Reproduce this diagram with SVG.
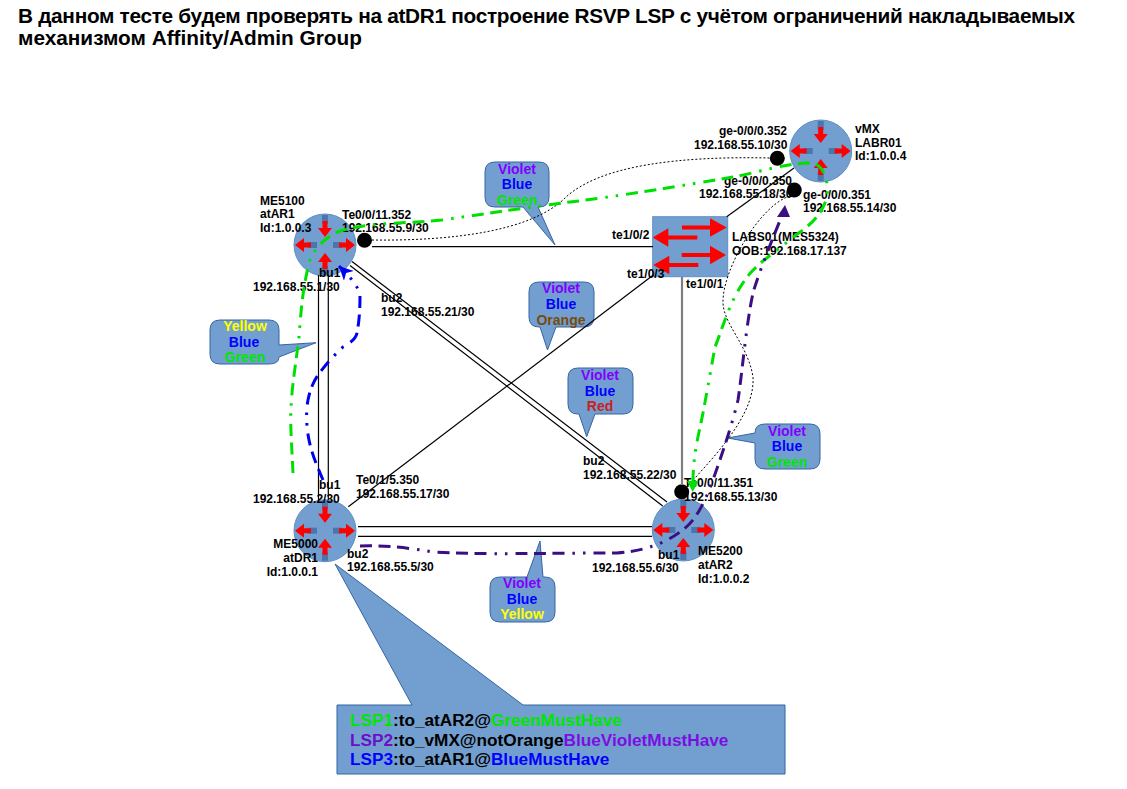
<svg xmlns="http://www.w3.org/2000/svg" width="1127" height="789" viewBox="0 0 1127 789">
<style>
text{font-family:"Liberation Sans",Arial,sans-serif;font-weight:bold;fill:#000}
.t{font-size:12px}
.title{font-size:20.8px}
.c{font-size:14px;text-anchor:middle}
.b{font-size:17.2px}
.e{text-anchor:end}
.v{fill:#8000ff}.bl{fill:#0000ff}.g{fill:#00e600}.o{fill:#784b10}.r{fill:#c9211e}.y{fill:#ffff00}.v2{fill:#6a10c8}.v3{fill:#7a10e0}
.call{fill:#729fcf;stroke:#3465a4;stroke-width:1}
.ln{fill:none;stroke:#000;stroke-width:1.2}
.gray{fill:none;stroke:#808080;stroke-width:2.2}
.dot{fill:none;stroke:#000;stroke-width:1;stroke-dasharray:2 2}
.lsp{fill:none;stroke-width:3;stroke-dasharray:12 6.5 12 6.5 12 8 2.5 8 2.5 8}
</style>
<defs>
<g id="out"><rect x="8" y="-3" width="9" height="6" fill="#4a76ae"/><path d="M14-2.500H21V-7L30 0L21 7V2.500H14Z" fill="#ff0000"/></g>
<g id="in"><rect x="21" y="-3" width="9" height="6" fill="#4a76ae"/><path d="M24-2.500H17V-7L8 0L17 7V2.500H24Z" fill="#ff0000"/></g>
<g id="router"><circle r="31" fill="#729fcf" stroke="#5f8fc4" stroke-width="1"/><use href="#in" transform="rotate(90)"/><use href="#in" transform="rotate(-90)"/><use href="#out"/><use href="#out" transform="rotate(180)"/></g>
<marker id="mb" markerUnits="userSpaceOnUse" markerWidth="18" markerHeight="18" refX="14" refY="7" orient="auto"><path d="M0 0L14 7L0 14L4 7Z" fill="#0000ee"/></marker>
</defs>

<text class="title" x="18" y="23" textLength="1057" lengthAdjust="spacing">В данном тесте будем проверять на atDR1 построение RSVP LSP с учётом ограничений накладываемых</text>
<text class="title" x="18" y="45">механизмом Affinity/Admin Group</text>

<g id="vMX"><use href="#router" x="820.700" y="151"/>
<circle cx="777.300" cy="158.300" r="7.500"/><circle cx="794.300" cy="190" r="7.500"/>
<text class="t" x="855" y="133">vMX</text><text class="t" x="855" y="147">LABR01</text><text class="t" x="855" y="160">Id:1.0.0.4</text>
<text class="t" x="719" y="135">ge-0/0/0.352</text><text class="t" x="694" y="149">192.168.55.10/30</text>
<text class="t" x="724" y="185">ge-0/0/0.350</text><text class="t" x="699" y="198">192.168.55.18/30</text>
<text class="t" x="803" y="199">ge-0/0/0.351</text><text class="t" x="803" y="212">192.168.55.14/30</text></g>

<g id="LABS01"><rect x="652.700" y="216.700" width="75" height="60" fill="#729fcf" stroke="#5f8fc4"/>
<path fill="#ff0000" d="M682 225.500H710V218.300L726.700 227.500L710 236.700V229.500H682ZM697.300 235.500H668.300V228.300L652.700 237.500L668.300 246.700V239.500H697.300ZM681.700 253H710V245.800L726 255L710 264.200V257H681.700ZM698.300 263H669.300V255.800L653.300 265L669.300 274.200V267H698.300Z"/>
<text class="t" x="612" y="239">te1/0/2</text><text class="t" x="627" y="278">te1/0/3</text><text class="t" x="686" y="288">te1/0/1</text>
<text class="t" x="732" y="241">LABS01(MES5324)</text><text class="t" x="732" y="255">OOB:192.168.17.137</text></g>

<g id="atAR1"><use href="#router" x="325" y="245"/>
<circle cx="364.500" cy="240.300" r="7.500"/>
<text class="t" x="260" y="205">ME5100</text><text class="t" x="260" y="218">atAR1</text><text class="t" x="260" y="232">Id:1.0.0.3</text>
<text class="t" x="342" y="219">Te0/0/11.352</text><text class="t" x="342" y="232">192.168.55.9/30</text>
<text class="t" x="319" y="277">bu1</text><text class="t" x="253" y="291">192.168.55.1/30</text>
<text class="t" x="381" y="302">bu2</text><text class="t" x="381" y="316">192.168.55.21/30</text></g>

<g id="atDR1"><use href="#router" x="325" y="530.700"/>
<text class="t e" x="318" y="548">ME5000</text><text class="t e" x="318" y="562">atDR1</text><text class="t e" x="318" y="576">Id:1.0.0.1</text>
<text class="t" x="319" y="489">bu1</text><text class="t" x="253" y="503">192.168.55.2/30</text>
<text class="t" x="356" y="484">Te0/1/5.350</text><text class="t" x="356" y="498">192.168.55.17/30</text>
<text class="t" x="347" y="558">bu2</text><text class="t" x="347" y="571">192.168.55.5/30</text></g>

<g id="atAR2"><use href="#router" x="683.300" y="530"/>
<circle cx="681.700" cy="491.700" r="7.500"/>
<text class="t" x="698" y="555">ME5200</text><text class="t" x="698" y="569">atAR2</text><text class="t" x="698" y="583">Id:1.0.0.2</text>
<text class="t" x="583" y="465">bu2</text><text class="t" x="583" y="479">192.168.55.22/30</text>
<text class="t" x="684" y="487">Te0/0/11.351</text><text class="t" x="684" y="501">192.168.55.13/30</text>
<text class="t" x="658" y="559">bu1</text><text class="t" x="592" y="572">192.168.55.6/30</text></g>

<g id="callout-top"><path class="call" d="M495 162H539Q549 162 549 172V197Q549 207 539 207H538L555 245L523 207H495Q485 207 485 197V172Q485 162 495 162Z"/>
<text class="c v" x="517" y="174">Violet</text><text class="c bl" x="517" y="189">Blue</text><text class="c g" x="517" y="205">Green</text></g>

<g id="callout-orange"><path class="call" d="M539 282H584Q594 282 594 292V317Q594 327 584 327H556L547.500 350L540 327H539Q529 327 529 317V292Q529 282 539 282Z"/>
<text class="c v" x="561" y="293">Violet</text><text class="c bl" x="561" y="309">Blue</text><text class="c o" x="561" y="325">Orange</text></g>

<g id="callout-red"><path class="call" d="M578 368H623Q633 368 633 378V404Q633 414 623 414H595L586.700 436.700L579 414H578Q568 414 568 404V378Q568 368 578 368Z"/>
<text class="c v" x="600" y="380">Violet</text><text class="c bl" x="600" y="396">Blue</text><text class="c r" x="600" y="411">Red</text></g>

<g id="callout-left"><path class="call" d="M220 320H269Q279 320 279 330V345L316 342.700L279 357Q279 364 269 364H220Q210 364 210 354V330Q210 320 220 320Z"/>
<text class="c y" x="245" y="331">Yellow</text><text class="c bl" x="244" y="347">Blue</text><text class="c g" x="245" y="362">Green</text></g>

<g id="callout-right"><path class="call" d="M765 424H810Q820 424 820 434V459Q820 469 810 469H765Q755 469 755 459V443L727.700 438L755 433Q755 424 765 424Z"/>
<text class="c v" x="787" y="436">Violet</text><text class="c bl" x="787" y="451">Blue</text><text class="c g" x="787" y="467">Green</text></g>

<g id="callout-bottom"><path class="call" d="M500 577H527L540 541L543 577H545Q555 577 555 587V612Q555 622 545 622H500Q490 622 490 612V587Q490 577 500 577Z"/>
<text class="c v" x="522" y="588">Violet</text><text class="c bl" x="522" y="604">Blue</text><text class="c y" x="522" y="619">Yellow</text></g>

<g id="callout-lsp"><path class="call" d="M337 705H412L335 564L523 705H785V774H337Z"/>
<text class="b" x="350" y="726"><tspan class="g">LSP1</tspan>:to_atAR2@<tspan class="g">GreenMustHave</tspan></text>
<text class="b" x="350" y="746"><tspan class="v2">LSP2</tspan>:to_vMX@notOrange<tspan class="v3">BlueVioletMustHave</tspan></text>
<text class="b" x="350" y="765"><tspan class="bl">LSP3</tspan>:to_atAR1@<tspan class="bl">BlueMustHave</tspan></text></g>

<g id="connectors">
<path class="ln" d="M318.500 275V500M328.300 276V500"/>
<path class="ln" d="M358 526.700H652M358 536.300H652"/>
<path class="ln" d="M352 261.500L667 502M350 265.500L662.700 506"/>
<path class="ln" d="M372 246.700H653"/>
<path class="ln" d="M348.300 506.700L653.300 275"/>
<path class="ln" d="M726.700 216.700L794 168"/>
<path class="gray" d="M682 277V485"/>
<path class="dot" d="M372 240C450 241 530 232 565 198C600 165 680 156 770 158"/>
<path class="dot" d="M790 196C760 205 722 270 723 303C724 325 748 345 753 377C755 410 725 445 695 478L687 486"/>
<path class="lsp" stroke="#00e000" d="M293 473C292 450 290 425 291 407C292 385 297 355 299 337C301 310 303 285 310 260C316 245 328 236 340 231C370 222 400 224 442 220C490 213 530 207 570 202C620 196 680 186 733 177C760 172 790 162 813 163C824 166 829 182 827 197C822 215 810 225 800 232C770 256 755 265 745 280C730 300 722 330 715 347C708 385 704 410 699 432C694 455 693 470 693 482"/>
<path d="M687 481H698.500L692.700 492Z" fill="#00e000"/>
<path class="lsp" stroke="#3b0f82" d="M360 546C385 545 410 548 433 552C480 555 540 553 617 553C645 551 665 543 680 532C695 522 703 505 710 488C722 455 732 425 738 400C742 375 746 325 753 293C758 275 770 245 781 218"/>
<path d="M777 217H790L785 205Z" fill="#3b0f82"/>
<path class="lsp" stroke="#0000ee" marker-end="url(#mb)" d="M323 480C318 468 312 455 309 440C306 425 306 410 308 400C310 390 313 382 318 375C324 367 332 357 343 347C352 342 356 338 357 333C359 322 360 312 360 295C358 285 348 275 339 266"/>
</g>
</svg>
